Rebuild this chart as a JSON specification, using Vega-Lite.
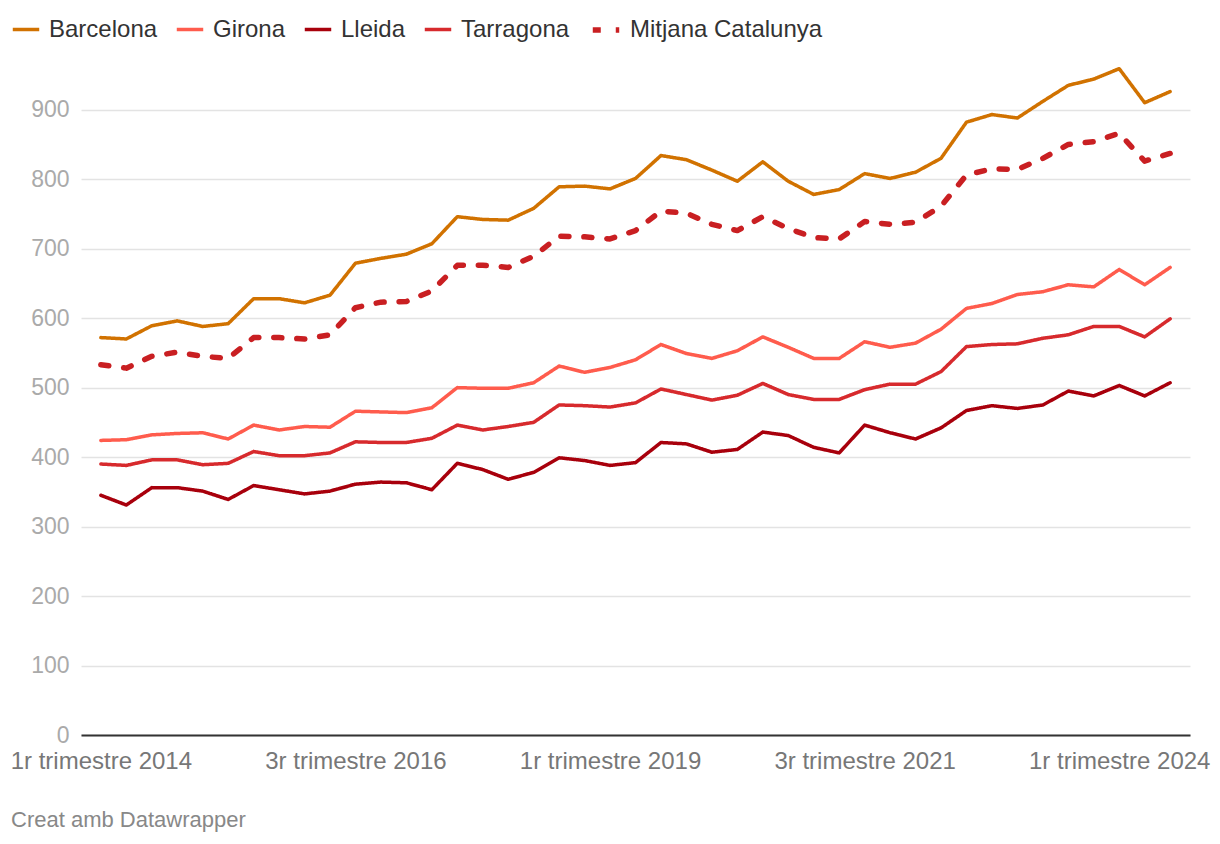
{
  "$schema": "https://vega.github.io/schema/vega-lite/v6.json",
  "width": 1109,
  "height": 667,
  "autosize": {"type": "none"},
  "padding": {"left": 81, "top": 68, "right": 30, "bottom": 109},
  "background": "white",
  "config": {
    "font": "Liberation Sans",
    "view": {"stroke": null}
  },
  "title": {
    "text": "Creat amb Datawrapper",
    "orient": "bottom",
    "anchor": "start",
    "frame": "group",
    "dx": -70,
    "offset": 37,
    "fontSize": 22,
    "fontWeight": "normal",
    "color": "#888888"
  },
  "data": {
    "values": [
      {"trimestre": "1r trimestre 2014", "Barcelona": 572, "Girona": 424, "Lleida": 345, "Tarragona": 390, "Mitjana Catalunya": 533},
      {"trimestre": "2n trimestre 2014", "Barcelona": 570, "Girona": 425, "Lleida": 331, "Tarragona": 388, "Mitjana Catalunya": 528},
      {"trimestre": "3r trimestre 2014", "Barcelona": 589, "Girona": 432, "Lleida": 356, "Tarragona": 396, "Mitjana Catalunya": 545},
      {"trimestre": "4t trimestre 2014", "Barcelona": 596, "Girona": 434, "Lleida": 356, "Tarragona": 396, "Mitjana Catalunya": 551},
      {"trimestre": "1r trimestre 2015", "Barcelona": 588, "Girona": 435, "Lleida": 351, "Tarragona": 389, "Mitjana Catalunya": 545},
      {"trimestre": "2n trimestre 2015", "Barcelona": 592, "Girona": 426, "Lleida": 339, "Tarragona": 391, "Mitjana Catalunya": 542},
      {"trimestre": "3r trimestre 2015", "Barcelona": 628, "Girona": 446, "Lleida": 359, "Tarragona": 408, "Mitjana Catalunya": 572},
      {"trimestre": "4t trimestre 2015", "Barcelona": 628, "Girona": 439, "Lleida": 353, "Tarragona": 402, "Mitjana Catalunya": 572},
      {"trimestre": "1r trimestre 2016", "Barcelona": 622, "Girona": 444, "Lleida": 347, "Tarragona": 402, "Mitjana Catalunya": 570},
      {"trimestre": "2n trimestre 2016", "Barcelona": 633, "Girona": 443, "Lleida": 351, "Tarragona": 406, "Mitjana Catalunya": 576},
      {"trimestre": "3r trimestre 2016", "Barcelona": 679, "Girona": 466, "Lleida": 361, "Tarragona": 422, "Mitjana Catalunya": 615},
      {"trimestre": "4t trimestre 2016", "Barcelona": 686, "Girona": 465, "Lleida": 364, "Tarragona": 421, "Mitjana Catalunya": 623},
      {"trimestre": "1r trimestre 2017", "Barcelona": 692, "Girona": 464, "Lleida": 363, "Tarragona": 421, "Mitjana Catalunya": 624},
      {"trimestre": "2n trimestre 2017", "Barcelona": 707, "Girona": 471, "Lleida": 353, "Tarragona": 427, "Mitjana Catalunya": 639},
      {"trimestre": "3r trimestre 2017", "Barcelona": 746, "Girona": 500, "Lleida": 391, "Tarragona": 446, "Mitjana Catalunya": 676},
      {"trimestre": "4t trimestre 2017", "Barcelona": 742, "Girona": 499, "Lleida": 382, "Tarragona": 439, "Mitjana Catalunya": 676},
      {"trimestre": "1r trimestre 2018", "Barcelona": 741, "Girona": 499, "Lleida": 368, "Tarragona": 444, "Mitjana Catalunya": 673},
      {"trimestre": "2n trimestre 2018", "Barcelona": 758, "Girona": 507, "Lleida": 378, "Tarragona": 450, "Mitjana Catalunya": 689},
      {"trimestre": "3r trimestre 2018", "Barcelona": 789, "Girona": 531, "Lleida": 399, "Tarragona": 475, "Mitjana Catalunya": 718},
      {"trimestre": "4t trimestre 2018", "Barcelona": 790, "Girona": 522, "Lleida": 395, "Tarragona": 474, "Mitjana Catalunya": 717},
      {"trimestre": "1r trimestre 2019", "Barcelona": 786, "Girona": 529, "Lleida": 388, "Tarragona": 472, "Mitjana Catalunya": 714},
      {"trimestre": "2n trimestre 2019", "Barcelona": 801, "Girona": 540, "Lleida": 392, "Tarragona": 478, "Mitjana Catalunya": 726},
      {"trimestre": "3r trimestre 2019", "Barcelona": 834, "Girona": 562, "Lleida": 421, "Tarragona": 498, "Mitjana Catalunya": 754},
      {"trimestre": "4t trimestre 2019", "Barcelona": 828, "Girona": 549, "Lleida": 419, "Tarragona": 490, "Mitjana Catalunya": 751},
      {"trimestre": "1r trimestre 2020", "Barcelona": 813, "Girona": 542, "Lleida": 407, "Tarragona": 482, "Mitjana Catalunya": 735},
      {"trimestre": "2n trimestre 2020", "Barcelona": 797, "Girona": 553, "Lleida": 411, "Tarragona": 489, "Mitjana Catalunya": 726},
      {"trimestre": "3r trimestre 2020", "Barcelona": 825, "Girona": 573, "Lleida": 436, "Tarragona": 506, "Mitjana Catalunya": 746},
      {"trimestre": "4t trimestre 2020", "Barcelona": 797, "Girona": 558, "Lleida": 431, "Tarragona": 490, "Mitjana Catalunya": 729},
      {"trimestre": "1r trimestre 2021", "Barcelona": 778, "Girona": 542, "Lleida": 414, "Tarragona": 483, "Mitjana Catalunya": 716},
      {"trimestre": "2n trimestre 2021", "Barcelona": 785, "Girona": 542, "Lleida": 406, "Tarragona": 483, "Mitjana Catalunya": 714},
      {"trimestre": "3r trimestre 2021", "Barcelona": 808, "Girona": 566, "Lleida": 446, "Tarragona": 497, "Mitjana Catalunya": 739},
      {"trimestre": "4t trimestre 2021", "Barcelona": 801, "Girona": 558, "Lleida": 435, "Tarragona": 505, "Mitjana Catalunya": 735},
      {"trimestre": "1r trimestre 2022", "Barcelona": 810, "Girona": 564, "Lleida": 426, "Tarragona": 505, "Mitjana Catalunya": 738},
      {"trimestre": "2n trimestre 2022", "Barcelona": 830, "Girona": 584, "Lleida": 442, "Tarragona": 523, "Mitjana Catalunya": 761},
      {"trimestre": "3r trimestre 2022", "Barcelona": 882, "Girona": 614, "Lleida": 467, "Tarragona": 559, "Mitjana Catalunya": 806},
      {"trimestre": "4t trimestre 2022", "Barcelona": 893, "Girona": 621, "Lleida": 474, "Tarragona": 562, "Mitjana Catalunya": 815},
      {"trimestre": "1r trimestre 2023", "Barcelona": 888, "Girona": 634, "Lleida": 470, "Tarragona": 563, "Mitjana Catalunya": 814},
      {"trimestre": "2n trimestre 2023", "Barcelona": 912, "Girona": 638, "Lleida": 475, "Tarragona": 571, "Mitjana Catalunya": 830},
      {"trimestre": "3r trimestre 2023", "Barcelona": 935, "Girona": 648, "Lleida": 495, "Tarragona": 576, "Mitjana Catalunya": 850},
      {"trimestre": "4t trimestre 2023", "Barcelona": 944, "Girona": 645, "Lleida": 488, "Tarragona": 588, "Mitjana Catalunya": 854},
      {"trimestre": "1r trimestre 2024", "Barcelona": 959, "Girona": 670, "Lleida": 503, "Tarragona": 588, "Mitjana Catalunya": 866},
      {"trimestre": "2n trimestre 2024", "Barcelona": 910, "Girona": 648, "Lleida": 488, "Tarragona": 573, "Mitjana Catalunya": 826},
      {"trimestre": "3r trimestre 2024", "Barcelona": 926, "Girona": 673, "Lleida": 507, "Tarragona": 599, "Mitjana Catalunya": 837}
    ]
  },
  "transform": [
    {"fold": ["Barcelona", "Girona", "Lleida", "Tarragona", "Mitjana Catalunya"], "as": ["zona", "valor"]}
  ],
  "mark": {"type": "line", "strokeCap": "round", "strokeJoin": "round"},
  "encoding": {
    "x": {
      "field": "trimestre",
      "type": "ordinal",
      "sort": null,
      "scale": {"type": "point", "padding": 0.78},
      "axis": {
        "title": null,
        "values": ["1r trimestre 2014", "3r trimestre 2016", "1r trimestre 2019", "3r trimestre 2021", "1r trimestre 2024"],
        "labelAngle": 0,
        "labelFontSize": 24,
        "labelLimit": 400,
        "labelColor": "#777777",
        "labelPadding": 14,
        "labelBaseline": "top",
        "ticks": false,
        "grid": false,
        "domain": true,
        "domainColor": "#333333",
        "domainWidth": 2
      }
    },
    "y": {
      "field": "valor",
      "type": "quantitative",
      "scale": {"domain": [0, 960], "nice": false},
      "axis": {
        "title": null,
        "values": [0, 100, 200, 300, 400, 500, 600, 700, 800, 900],
        "domain": false,
        "ticks": false,
        "labelFontSize": 23,
        "labelColor": "#aaaaaa",
        "labelPadding": 12,
        "gridColor": "#e3e3e3",
        "gridWidth": 1.5
      }
    },
    "color": {
      "field": "zona",
      "type": "nominal",
      "scale": {
        "domain": ["Barcelona", "Girona", "Lleida", "Tarragona", "Mitjana Catalunya"],
        "range": ["#d17200", "#ff5c4d", "#a8000c", "#d72a2d", "#c91f22"]
      },
      "legend": {
        "title": null,
        "orient": "none",
        "direction": "horizontal",
        "legendX": -70,
        "legendY": -54,
        "labelFontSize": 24,
        "labelLimit": 400,
        "labelColor": "#333333",
        "symbolType": "stroke",
        "symbolSize": 700,
        "symbolStrokeWidth": 4,
        "labelOffset": 8,
        "columnPadding": 11
      }
    },
    "strokeDash": {
      "field": "zona",
      "type": "nominal",
      "scale": {
        "domain": ["Barcelona", "Girona", "Lleida", "Tarragona", "Mitjana Catalunya"],
        "range": [[1, 0], [1, 0], [1, 0], [1, 0], [8, 15]]
      },
      "legend": null
    },
    "strokeWidth": {
      "field": "zona",
      "type": "ordinal",
      "scale": {
        "type": "ordinal",
        "domain": ["Barcelona", "Girona", "Lleida", "Tarragona", "Mitjana Catalunya"],
        "range": [3.5, 3.5, 3.5, 3.5, 5.5]
      },
      "legend": null
    }
  }
}
